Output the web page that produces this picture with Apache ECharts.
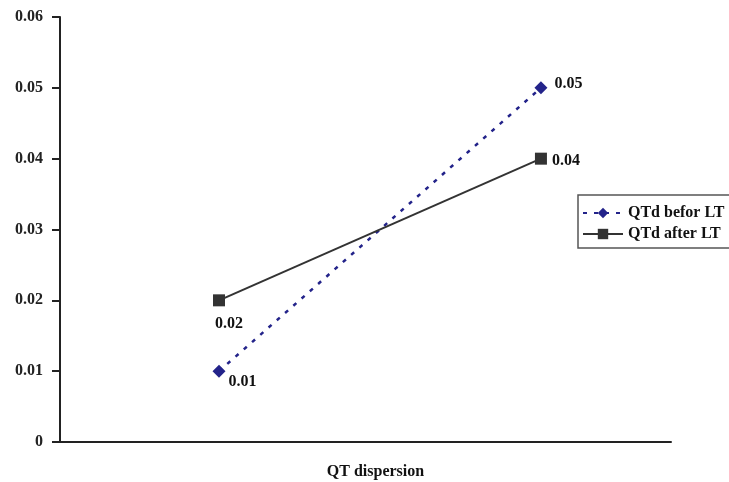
<!DOCTYPE html>
<html>
<head>
<meta charset="utf-8">
<script src="https://cdn.jsdelivr.net/npm/echarts@6/dist/echarts.min.js"></script>
<style>
html,body{margin:0;padding:0;background:#fff;}
#chart{width:729px;height:482px;}
</style>
</head>
<body>
<div id="chart"></div>
<script>
// Data
var xPoints = [1, 2];
var seriesNames = ['QTd befor LT', 'QTd after LT'];
var beforeValues = [0.01, 0.05];
var afterValues = [0.02, 0.04];
var yTicks = [0, 0.01, 0.02, 0.03, 0.04, 0.05, 0.06];
var xAxisTitle = 'QT dispersion';

var font = 'Liberation Serif';
var fs = 16;
var beforeLabelPos = [{position: 'right', offset: [-2, 11]}, {position: 'right', offset: [2, -4]}];
var afterLabelPos = [{position: 'bottom', offset: [10, 5]}, {position: 'right', offset: [0, 2]}];

function build(values, pos) {
  return values.map(function (v, i) {
    return {
      value: [xPoints[i], v],
      label: {show: true, position: pos[i].position, offset: pos[i].offset,
        formatter: function (p) { return p.value[1].toFixed(2); }}
    };
  });
}

var chart = echarts.init(document.getElementById('chart'));
chart.setOption({
  animation: false,
  backgroundColor: '#fff',
  grid: {left: 60, top: 17, right: 58, bottom: 40, outerBoundsMode: 'none', containLabel: false},
  legend: {
    orient: 'vertical',
    left: 578, top: 195,
    padding: [10, 6, 6, 4],
    itemGap: 5,
    itemWidth: 40, itemHeight: 13,
    borderColor: '#555', borderWidth: 1.5,
    backgroundColor: '#fff',
    textStyle: {fontFamily: font, fontWeight: 'bold', fontSize: fs, color: '#111'},
    data: seriesNames
  },
  xAxis: {
    type: 'value',
    min: 0.506, max: 2.404,
    axisLine: {show: true, onZero: false, lineStyle: {color: '#222', width: 2}},
    axisTick: {show: false},
    axisLabel: {show: false},
    splitLine: {show: false},
    name: xAxisTitle,
    nameLocation: 'middle',
    nameGap: 22,
    nameTextStyle: {fontFamily: font, fontWeight: 'bold', fontSize: fs, color: '#111', padding: [0, 0, 0, 20]}
  },
  yAxis: {
    type: 'value',
    min: yTicks[0], max: yTicks[yTicks.length - 1], interval: 0.01,
    axisLine: {show: true, lineStyle: {color: '#222', width: 2}},
    axisTick: {show: true, length: 8, lineStyle: {color: '#222', width: 2}},
    axisLabel: {
      margin: 17,
      fontFamily: font, fontWeight: 'bold', fontSize: fs, color: '#222',
      formatter: function (v) { return v === 0 ? '0' : v.toFixed(2); }
    },
    splitLine: {show: false}
  },
  series: [
    {
      name: seriesNames[0],
      type: 'line',
      data: build(beforeValues, beforeLabelPos),
      symbol: 'diamond', symbolSize: 13,
      itemStyle: {color: '#23238a'},
      lineStyle: {color: '#23238a', width: 2.5, type: [4, 7]},
      label: {fontFamily: font, fontWeight: 'bold', fontSize: fs, color: '#111'}
    },
    {
      name: seriesNames[1],
      type: 'line',
      data: build(afterValues, afterLabelPos),
      symbol: 'rect', symbolSize: 12,
      itemStyle: {color: '#333'},
      lineStyle: {color: '#333', width: 2},
      label: {fontFamily: font, fontWeight: 'bold', fontSize: fs, color: '#111'}
    }
  ]
});
</script>
</body>
</html>
